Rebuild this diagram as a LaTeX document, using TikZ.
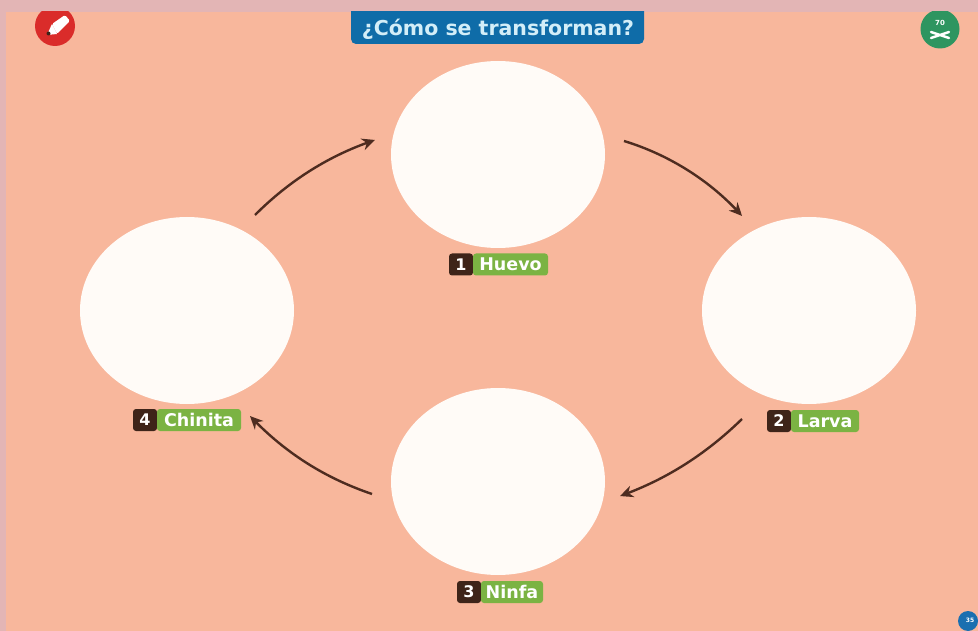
\documentclass[tikz,border=0pt]{standalone}
\usepackage{fontspec}
\setmainfont{DejaVu Sans}
\usetikzlibrary{shapes.geometric,arrows.meta,bending}
\definecolor{pagepink}{HTML}{E3B5B5}
\definecolor{salmon}{HTML}{F8B79C}
\definecolor{bluehead}{HTML}{0F6CA8}
\definecolor{headtext}{HTML}{D3EEF8}
\definecolor{brownish}{HTML}{3E2419}
\definecolor{leaf}{HTML}{7BB343}
\definecolor{arrowbrown}{HTML}{4E2C20}
\definecolor{badgered}{HTML}{DA2C2A}
\definecolor{badgegreen}{HTML}{2E9560}
\definecolor{badgeblue}{HTML}{1A6FB0}
\tikzset{
  x=1pt,y=-1pt,
  stage/.style={ellipse,fill=white!97!orange,minimum width=214pt,minimum height=187pt,inner sep=0pt},
  numtag/.style={fill=brownish,rounded corners=3pt,text=white,font=\bfseries\fontsize{16}{16}\selectfont,minimum width=24pt,minimum height=22pt,inner sep=0pt},
  nametag/.style={fill=leaf,rounded corners=3pt,text=white,font=\bfseries\fontsize{17.5}{18}\selectfont,minimum height=22pt,inner sep=0pt},
  cycle/.style={draw=arrowbrown,line width=2.4pt,-{Stealth[length=13pt,width=12pt,bend]}},
}
\begin{document}
\begin{tikzpicture}
\useasboundingbox (0,0) rectangle (978,631);
\fill[pagepink] (0,0) rectangle (978,631);
\fill[salmon] (6,12) rectangle (978,631);
% header
\begin{scope}
\clip (0,12) rectangle (978,631);
\fill[bluehead,rounded corners=5pt] (351,0) rectangle (644,44);
\fill[badgered] (55,26) circle (20pt);
\fill[badgegreen] (940,29) circle (19.5pt);
\end{scope}
\node[text=headtext,font=\bfseries\fontsize{20.5}{21}\selectfont,inner sep=0pt] (title) at (498,29) {¿Cómo se transforman?};
% pencil icon
\fill[white,rounded corners=1.5pt] (52,24) -- (65,15) -- (70,21) -- (57,34) -- cycle;
\fill[white] (52,24) -- (57,34) -- (47,35) -- cycle;
\fill[brownish] (48.5,33.5) circle (2pt);
% scissors badge
\node[text=white,font=\bfseries\fontsize{7}{7}\selectfont,inner sep=0pt] (seventy) at (940,23) {70};
\draw[white,line width=2.5pt,line cap=round] (931,32) -- (949,38) (931,38) -- (949,32);
% corner page number
\begin{scope}
\clip (0,0) rectangle (978,631);
\fill[badgeblue] (968,621) circle (10pt);
\end{scope}
\node[text=white,font=\bfseries\fontsize{6}{6}\selectfont,inner sep=0pt] (page) at (970,620) {35};
% stages
\node[stage] (huevo) at (498,154.5) {};
\node[stage] (larva) at (809,310.5) {};
\node[stage] (ninfa) at (498,481.5) {};
\node[stage] (chinita) at (187,310.5) {};
% labels
\node[numtag] (n1) at (461,264.5) {1};
\node[nametag,minimum width=75pt] (l1) at (510.5,264.5) {Huevo};
\node[numtag] (n2) at (779,421) {2};
\node[nametag,minimum width=68pt] (l2) at (825,421) {Larva};
\node[numtag] (n3) at (469,592) {3};
\node[nametag,minimum width=62pt] (l3) at (512,592) {Ninfa};
\node[numtag] (n4) at (145,420) {4};
\node[nametag,minimum width=84pt] (l4) at (199,420) {Chinita};
% arrows
\coordinate (a1) at (255,215); \coordinate (a2) at (375,140);
\coordinate (b1) at (624,141); \coordinate (b2) at (742,216);
\coordinate (c1) at (742,419); \coordinate (c2) at (620,496);
\coordinate (d1) at (372,494); \coordinate (d2) at (250,416);
\draw[cycle] (a1) .. controls (290,180) and (330,155) .. (a2);
\draw[cycle] (b1) .. controls (670,155) and (712,182) .. (b2);
\draw[cycle] (c1) .. controls (705,455) and (665,480) .. (c2);
\draw[cycle] (d1) .. controls (325,478) and (285,453) .. (d2);
\end{tikzpicture}
\end{document}
